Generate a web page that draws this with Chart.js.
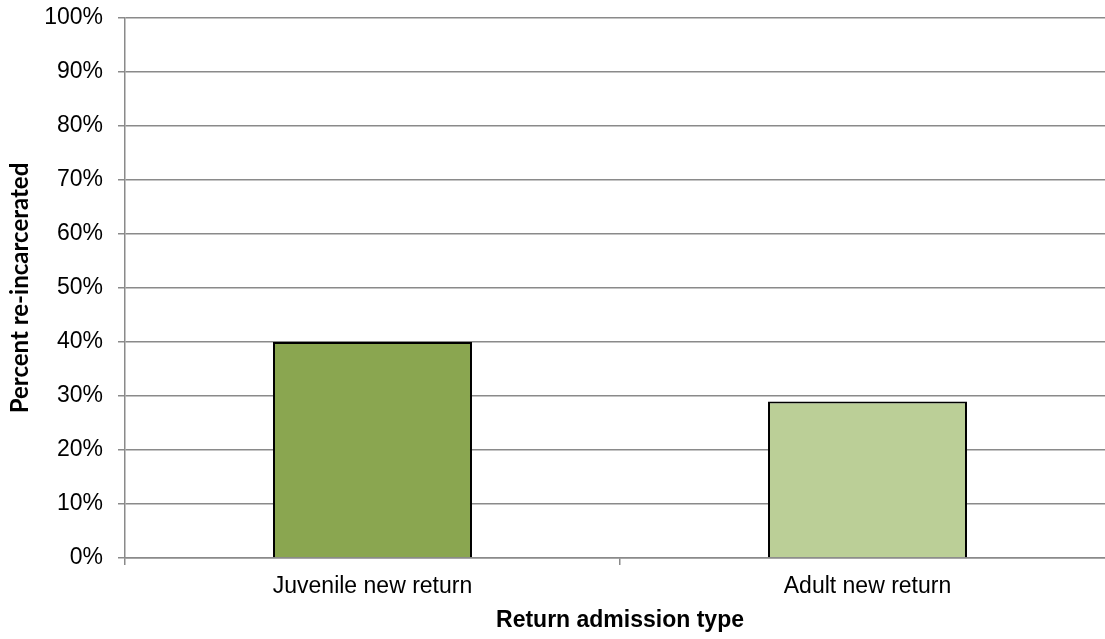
<!DOCTYPE html>
<html>
<head>
<meta charset="utf-8">
<script src="https://cdn.jsdelivr.net/npm/chart.js@4.4.1/dist/chart.umd.min.js"></script>
<style>
  html, body { margin: 0; padding: 0; background: #fff; overflow: hidden; }
  .wrap { width: 1105px; height: 639px; overflow: hidden; }
  .inner { width: 1120px; height: 639px; }
</style>
</head>
<body>
<div class="wrap"><div class="inner"><canvas id="chart" width="1120" height="639"></canvas></div></div>
<script>
const categories = ["Juvenile new return", "Adult new return"];
const percentReincarcerated = [40, 29];
const barColors = ["#8aa650", "#bbcf97"];
const yTicks = [0, 10, 20, 30, 40, 50, 60, 70, 80, 90, 100];

const gridColor = "#8a8a8a";

new Chart(document.getElementById("chart"), {
  type: "bar",
  data: {
    labels: categories,
    datasets: [{
      data: percentReincarcerated,
      backgroundColor: barColors,
      borderColor: "#000",
      borderWidth: 2,
      categoryPercentage: 1,
      barPercentage: 0.402
    }]
  },
  options: {
    responsive: false,
    animation: false,
    layout: { padding: { top: 18, right: 5, left: 0, bottom: 0 } },
    plugins: {
      legend: { display: false },
      tooltip: { enabled: false }
    },
    scales: {
      x: {
        grid: {
          drawOnChartArea: false,
          drawTicks: true,
          tickLength: 7,
          color: gridColor,
          lineWidth: 1.5
        },
        border: { color: gridColor, width: 1.5 },
        ticks: {
          color: "#000",
          padding: 8,
          font: { family: "'Liberation Sans', Arial, sans-serif", size: 23 }
        },
        title: {
          display: true,
          text: "Return admission type",
          color: "#000",
          padding: { top: 5, bottom: 5 },
          font: { family: "'Liberation Sans', Arial, sans-serif", size: 23, weight: "bold" }
        },
        afterFit: scale => {
          scale.height = 81;
          scale.paddingLeft = 0;
          scale.paddingRight = 0;
        }
      },
      y: {
        min: 0,
        max: 100,
        afterBuildTicks: scale => { scale.ticks = yTicks.map(v => ({ value: v })); },
        grid: {
          color: gridColor,
          lineWidth: 1.5,
          drawTicks: true,
          tickLength: 7
        },
        border: { color: gridColor, width: 1.5 },
        ticks: {
          color: "#000",
          padding: 15,
          callback: v => `${v}%`,
          font: { family: "'Liberation Sans', Arial, sans-serif", size: 23 }
        },
        title: {
          display: true,
          text: "Percent re-incarcerated",
          color: "#000",
          padding: { top: 6, bottom: 6 },
          font: { family: "Lato, 'Open Sans', sans-serif", size: 24, weight: "bold" }
        },
        afterFit: scale => {
          // keep the plot box fixed; the top label may overhang the padding
          scale.width = 125;
          scale.paddingTop = 0;
          scale.paddingBottom = 0;
        }
      }
    }
  }
});
</script>
</body>
</html>
